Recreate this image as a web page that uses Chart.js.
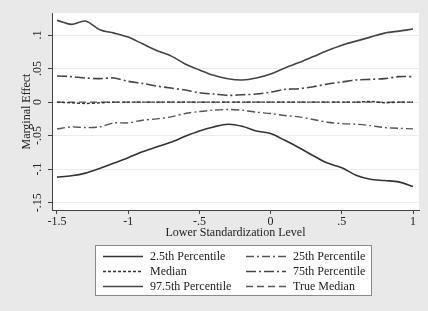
<!DOCTYPE html>
<html>
<head>
<meta charset="utf-8">
<script src="https://cdn.jsdelivr.net/npm/chart.js@4"></script>
<style>
  body { margin: 0; background: #e9e9e9; }
</style>
</head>
<body>
<canvas id="myChart" width="428" height="311"></canvas>
<script>
const xLevels = [-1.5, -1.4, -1.3, -1.2, -1.1, -1.0, -0.9, -0.8, -0.7, -0.6, -0.5, -0.4, -0.3,
                 -0.2, -0.1, 0.0, 0.1, 0.2, 0.3, 0.4, 0.5, 0.6, 0.7, 0.8, 0.9, 1.0];

const p2_5 = [-0.112, -0.110, -0.106, -0.099, -0.091, -0.083, -0.074, -0.067, -0.060, -0.051, -0.043, -0.037, -0.033,
              -0.036, -0.043, -0.047, -0.057, -0.068, -0.080, -0.091, -0.098, -0.109, -0.115, -0.117, -0.119, -0.126];
const p25 = [-0.040, -0.037, -0.038, -0.037, -0.031, -0.031, -0.027, -0.025, -0.022, -0.017, -0.014, -0.012, -0.011,
             -0.012, -0.015, -0.017, -0.020, -0.022, -0.026, -0.030, -0.032, -0.033, -0.035, -0.038, -0.039, -0.040];
const median = [0.000, -0.001, -0.002, -0.001, 0.000, 0.000, 0.000, 0.000, 0.000, 0.000, 0.000, 0.000, 0.000,
                0.000, 0.000, 0.000, 0.000, 0.000, 0.000, 0.000, 0.000, 0.000, 0.001, -0.001, 0.000, 0.000];
const p75 = [0.039, 0.038, 0.036, 0.035, 0.036, 0.031, 0.028, 0.024, 0.021, 0.018, 0.014, 0.012, 0.010,
             0.011, 0.012, 0.015, 0.019, 0.020, 0.023, 0.027, 0.030, 0.033, 0.034, 0.035, 0.038, 0.038];
const p97_5 = [0.122, 0.116, 0.121, 0.108, 0.103, 0.097, 0.087, 0.077, 0.069, 0.057, 0.048, 0.040, 0.035,
               0.033, 0.036, 0.042, 0.051, 0.059, 0.068, 0.077, 0.085, 0.091, 0.097, 0.103, 0.106, 0.109];
const trueMedian = [0, 0, 0, 0, 0, 0, 0, 0, 0, 0, 0, 0, 0, 0, 0, 0, 0, 0, 0, 0, 0, 0, 0, 0, 0, 0];

const xTicks = [-1.5, -1, -0.5, 0, 0.5, 1];
const xTickLabels = ['-1.5', '-1', '-.5', '0', '.5', '1'];
const yTicks = [-0.15, -0.1, -0.05, 0, 0.05, 0.1];
const yTickLabels = ['-.15', '-.1', '-.05', '0', '.05', '.1'];

const FONT = 'Liberation Serif';

function pts(arr) {
    return xLevels.map((x, i) => ({x: x, y: arr[i]}));
}

const backdrop = {
    id: 'backdrop',
    beforeDraw(chart) {
        const c = chart.ctx, a = chart.chartArea;
        c.save();
        c.fillStyle = '#e9e9e9';
        c.fillRect(0, 0, chart.width, chart.height);
        c.fillStyle = '#ffffff';
        c.fillRect(a.left, a.top, a.right - a.left, a.bottom - a.top);
        c.restore();
    }
};

// two column legend box like stata's
const boxLegend = {
    id: 'boxLegend',
    afterDraw(chart) {
        const c = chart.ctx;
        const bx = 95, by = 245, bw = 276, bh = 50;
        c.save();
        c.fillStyle = '#ffffff';
        c.fillRect(bx, by, bw, bh);
        c.strokeStyle = '#8a8a8a';
        c.lineWidth = 1;
        c.strokeRect(bx + 0.5, by + 0.5, bw, bh);
        c.font = '12px "' + FONT + '"';
        c.textBaseline = 'middle';
        c.fillStyle = '#222';
        chart.data.datasets.forEach((ds, i) => {
            const col = i % 2, row = Math.floor(i / 2);
            const x0 = col === 0 ? 103 : 246;
            const y = 256.5 + row * 15;
            c.beginPath();
            c.strokeStyle = ds.borderColor;
            c.lineWidth = ds.borderWidth;
            c.setLineDash(ds.borderDash || []);
            c.moveTo(x0, y);
            c.lineTo(x0 + 40, y);
            c.stroke();
            c.setLineDash([]);
            c.fillText(ds.label, x0 + 47, y);
        });
        c.restore();
    }
};

const ctx = document.getElementById('myChart').getContext('2d');

const chart = new Chart(ctx, {
    type: 'line',
    data: {
        datasets: [
            {label: '2.5th Percentile', data: pts(p2_5), borderColor: '#333', borderWidth: 1.6, borderDash: []},
            {label: '25th Percentile', data: pts(p25), borderColor: '#555', borderWidth: 1.4, borderDash: [8, 3, 2, 3]},
            {label: 'Median', data: pts(median), borderColor: '#333', borderWidth: 1.4, borderDash: [3, 2]},
            {label: '75th Percentile', data: pts(p75), borderColor: '#444', borderWidth: 1.6, borderDash: [10, 3, 2, 3]},
            {label: '97.5th Percentile', data: pts(p97_5), borderColor: '#444', borderWidth: 1.6, borderDash: []},
            {label: 'True Median', data: pts(trueMedian), borderColor: '#555', borderWidth: 1.4, borderDash: [7, 4]}
        ]
    },
    options: {
        responsive: false,
        animation: false,
        layout: {padding: {top: 13, right: 9, bottom: 71, left: 0}},
        elements: {
            point: {radius: 0},
            line: {tension: 0.3, fill: false}
        },
        plugins: {
            legend: {display: false},
            tooltip: {enabled: false}
        },
        scales: {
            x: {
                type: 'linear',
                min: -1.535,
                max: 1.042,
                afterBuildTicks: s => { s.ticks = xTicks.map(v => ({value: v})); },
                afterFit: s => { s.height = 30; },
                border: {display: true, color: '#444', width: 1},
                grid: {drawOnChartArea: false, drawTicks: true, tickLength: 4, tickColor: '#444'},
                ticks: {
                    font: {family: FONT, size: 12},
                    color: '#222',
                    padding: 1,
                    maxRotation: 0,
                    callback: (v) => xTickLabels[xTicks.indexOf(v)]
                },
                title: {
                    display: true,
                    text: 'Lower Standardization Level',
                    font: {family: FONT, size: 12},
                    color: '#222',
                    padding: {top: 0, bottom: 0}
                }
            },
            y: {
                type: 'linear',
                min: -0.161,
                max: 0.133,
                afterBuildTicks: s => { s.ticks = yTicks.map(v => ({value: v})); },
                afterFit: s => { s.width = 52; },
                border: {display: true, color: '#444', width: 1},
                grid: {color: '#ececec', drawTicks: true, tickLength: 4, tickColor: '#444'},
                ticks: {
                    font: {family: FONT, size: 12},
                    color: '#222',
                    padding: 1,
                    minRotation: 90,
                    maxRotation: 90,
                    crossAlign: 'center',
                    callback: (v) => yTickLabels[yTicks.indexOf(v)]
                },
                title: {
                    display: true,
                    text: 'Marginal Effect',
                    font: {family: FONT, size: 12},
                    color: '#222',
                    padding: {top: 20, bottom: 0}
                }
            }
        }
    },
    plugins: [backdrop, boxLegend]
});
</script>
</body>
</html>
